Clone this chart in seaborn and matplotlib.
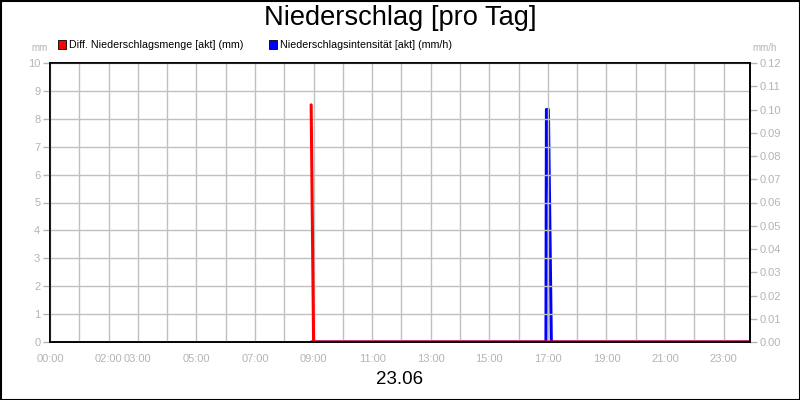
import matplotlib
matplotlib.use("Agg")
import matplotlib.pyplot as plt
import seaborn as sns
import pandas as pd
import numpy as np
from matplotlib.patches import Rectangle

# ---- data ----
red_times = ["08:55", "09:00", "23:55"]
red_values = [8.5, 0.0, 0.0]          # mm
blue_times = ["08:55", "16:56", "16:57", "17:01", "17:07", "23:55"]
blue_values = [0.0, 0.0, 0.10, 0.10, 0.0, 0.0]  # mm/h
xtick_labels = ["00:00", "02:00", "03:00", "05:00", "07:00", "09:00", "11:00",
                "13:00", "15:00", "17:00", "19:00", "21:00", "23:00"]
left_ticks = list(range(0, 11))
right_ticks = [0.00, 0.01, 0.02, 0.03, 0.04, 0.05, 0.06, 0.07, 0.08, 0.09, 0.10, 0.11, 0.12]
title = "Niederschlag [pro Tag]"
date_label = "23.06"
label_red = "Diff. Niederschlagsmenge [akt] (mm)"
label_blue = "Niederschlagsintensität [akt] (mm/h)"


def to_hours(t):
    h, m = t.split(":")
    return int(h) + int(m) / 60.0


red_df = pd.DataFrame({"t": [to_hours(t) for t in red_times], "v": red_values})
blue_df = pd.DataFrame({"t": [to_hours(t) for t in blue_times], "v": blue_values})

sns.set_theme(style="white")
plt.rcParams["font.family"] = ["Liberation Sans", "DejaVu Sans"]

GRAY = "#b4b4b4"
fig = plt.figure(figsize=(8, 4), dpi=100)
fig.patch.set_facecolor("white")
ax = fig.add_axes([50 / 800, 1 - 342 / 400, 700 / 800, 279 / 400])
ax2 = ax.twinx()

# blue first (underneath), red on top
ax.set_zorder(2)
ax.patch.set_visible(False)
sns.lineplot(data=blue_df, x="t", y="v", ax=ax2, color="#0000ff", linewidth=2.2,
             estimator=None, sort=False, legend=False)
sns.lineplot(data=red_df, x="t", y="v", ax=ax, color="#ff0000", linewidth=2.2,
             estimator=None, sort=False, legend=False)

ax.set_xlim(0, 23.9)
ax.set_ylim(0, 10)
ax2.set_ylim(0, 0.12)

hour_ticks = [to_hours(t) for t in xtick_labels]
ax.set_xticks(np.arange(0, 24, 1), minor=True)
ax.set_xticks(hour_ticks)
ax.set_xticklabels(xtick_labels)
ax.set_yticks(left_ticks)
ax.set_yticklabels([str(v) for v in left_ticks])
ax2.set_yticks(right_ticks)
ax2.set_yticklabels([f"{v:.2f}" for v in right_ticks])

ax.grid(True, which="both", axis="x", color="#c0c0c0", linewidth=1)
ax.grid(True, which="major", axis="y", color="#c0c0c0", linewidth=1)
ax2.grid(False)
ax.set_axisbelow(True)

for a in (ax, ax2):
    for s in a.spines.values():
        s.set_color("black")
        s.set_linewidth(1.2)
ax.tick_params(axis="both", which="both", colors=GRAY, labelcolor=GRAY,
               labelsize=8, length=5, width=1, direction="out", pad=2)
ax.tick_params(axis="x", which="both", length=6, pad=3)
ax2.tick_params(axis="y", colors=GRAY, labelcolor=GRAY, labelsize=8,
                length=5, width=1, direction="out", pad=2)
ax.set_xlabel("")
ax.set_ylabel("")
ax2.set_ylabel("")

fig.text(0.5, 1 - 18 / 400, title, ha="center", va="center", fontsize=19.6, color="black")
fig.text(0.5, 1 - 379 / 400, date_label, ha="center", va="center", fontsize=13.5, color="black")
fig.text(40 / 800, 1 - 48 / 400, "mm", ha="center", va="center", fontsize=7, color=GRAY)
fig.text(765 / 800, 1 - 48 / 400, "mm/h", ha="center", va="center", fontsize=7, color=GRAY)

# legend
for (x0, col, lab) in [(58, "#ff0000", label_red), (269, "#0000ff", label_blue)]:
    fig.patches.append(Rectangle((x0 / 800, 1 - 48.5 / 400), 8 / 800, 8 / 400,
                                 transform=fig.transFigure, facecolor=col,
                                 edgecolor="black", linewidth=0.6))
    fig.text((x0 + 11) / 800, 1 - 44.5 / 400, lab, ha="left", va="center",
             fontsize=7.7, color="black")

# frame around the figure
fig.patches.append(Rectangle((0.5 / 800, 0.5 / 400), 799 / 800, 399 / 400,
                             transform=fig.transFigure, fill=False,
                             edgecolor="black", linewidth=1.5))

fig.savefig("out.png", dpi=100)
